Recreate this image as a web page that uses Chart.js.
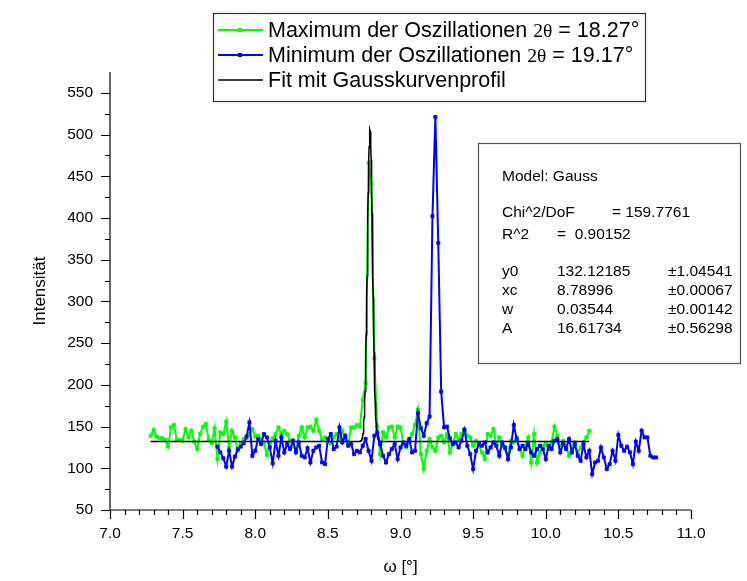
<!DOCTYPE html>
<html lang="de">
<head>
<meta charset="UTF-8">
<title>Oszillationen – ω-Scan</title>
<script src="https://cdn.jsdelivr.net/npm/chart.js"></script>
<style>
  html, body { margin: 0; padding: 0; background: #fff; }
  canvas { display: block; }
</style>
</head>
<body>
<canvas id="scan" width="747" height="581"></canvas>
<script>
// gemeinsames ω-Raster in Grad (Schrittweite 0.02°)
const omega = [
  7.28, 7.30, 7.32, 7.34, 7.36, 7.38, 7.40, 7.42, 7.44, 7.46,
  7.48, 7.50, 7.52, 7.54, 7.56, 7.58, 7.60, 7.62, 7.64, 7.66,
  7.68, 7.70, 7.72, 7.74, 7.76, 7.78, 7.80, 7.82, 7.84, 7.86,
  7.88, 7.90, 7.92, 7.94, 7.96, 7.98, 8.00, 8.02, 8.04, 8.06,
  8.08, 8.10, 8.12, 8.14, 8.16, 8.18, 8.20, 8.22, 8.24, 8.26,
  8.28, 8.30, 8.32, 8.34, 8.36, 8.38, 8.40, 8.42, 8.44, 8.46,
  8.48, 8.50, 8.52, 8.54, 8.56, 8.58, 8.60, 8.62, 8.64, 8.66,
  8.68, 8.70, 8.72, 8.74, 8.76, 8.78, 8.80, 8.82, 8.84, 8.86,
  8.88, 8.90, 8.92, 8.94, 8.96, 8.98, 9.00, 9.02, 9.04, 9.06,
  9.08, 9.10, 9.12, 9.14, 9.16, 9.18, 9.20, 9.22, 9.24, 9.26,
  9.28, 9.30, 9.32, 9.34, 9.36, 9.38, 9.40, 9.42, 9.44, 9.46,
  9.48, 9.50, 9.52, 9.54, 9.56, 9.58, 9.60, 9.62, 9.64, 9.66,
  9.68, 9.70, 9.72, 9.74, 9.76, 9.78, 9.80, 9.82, 9.84, 9.86,
  9.88, 9.90, 9.92, 9.94, 9.96, 9.98, 10.00, 10.02, 10.04, 10.06,
  10.08, 10.10, 10.12, 10.14, 10.16, 10.18, 10.20, 10.22, 10.24, 10.26,
  10.28, 10.30, 10.32, 10.34, 10.36, 10.38, 10.40, 10.42, 10.44, 10.46,
  10.48, 10.50, 10.52, 10.54, 10.56, 10.58, 10.60, 10.62, 10.64, 10.66,
  10.68, 10.70, 10.72, 10.74, 10.76
];

// Maximum der Oszillationen (2θ = 18.27°), null = nicht gemessen
const intensMax = [
  139, 146, 138, 136, 136, 134, 126, 149, 152, 134,
  134, 133, 147, 137, 145, 132, 123, 141, 150, 153,
  134, 130, 148, 111, 143, 141, 156, 125, 145, 137,
  121, 129, 135, 136, 141, 147, 138, 139, 135, 131,
  116, 129, 136, 141, 149, 141, 145, 141, 133, 127,
  121, 139, 149, 137, 149, 150, 145, 158, 145, 134,
  137, 132, 130, 137, 141, 135, 145, 137, 129, 149,
  149, 152, 150, 182, 202, 466, 441, 232, 150, 117,
  143, 137, 149, 150, 137, 150, 149, 129, 125, 133,
  141, 152, 170, 117, 99, 121, 135, 125, 121, 137,
  139, 131, 141, 119, 129, 141, 135, 141, 147, 139,
  137, 127, 133, 127, 119, 111, 141, 139, 147, 127,
  137, 127, 123, 115, 133, 131, 137, 123, 115, 127,
  137, 107, 141, 107, 119, 127, 129, 123, 131, 150,
  139, 125, 133, 127, 115, 125, 131, 119, 125, 131,
  137, 145, null, null, null, null, null, null, null, null,
  null, null, null, null, null, null, null, null, null, null,
  null, null, null, null, null
];

// Minimum der Oszillationen (2θ = 19.17°)
const intensMin = [
  null, null, null, null, null, null, null, null, null, null,
  null, null, null, null, null, null, null, null, null, null,
  null, null, null, 126, 119, 112, 102, 121, 102, 114,
  123, 126, 130, 138, 155, 115, 121, 135, 129, 141,
  137, 125, 106, 133, 115, 137, 119, 129, 123, 133,
  119, 131, 115, 113, 124, 107, 121, 125, 127, 107,
  105, 135, 141, 123, 126, 149, 131, 139, 127, 129,
  117, 121, 119, 127, 135, 121, 109, 139, 143, 129,
  115, 107, 117, 123, 129, 111, 125, 131, 127, 135,
  119, 121, 166, 148, 139, 154, 162, 402, 521, 370,
  192, 149, 150, 136, 129, 131, 125, 133, 146, 127,
  117, 99, 121, 129, 127, 131, 119, 125, 131, 127,
  115, 131, 125, 111, 125, 152, 135, 123, 127, 123,
  129, 119, 115, 123, 127, 123, 111, 127, 123, 133,
  135, 119, 129, 123, 135, 119, 129, 115, 109, 129,
  113, 121, 93, 107, 109, 125, 113, 99, 105, 121,
  109, 140, 127, 121, 126, 119, 105, 132, 121, 145,
  137, 137, 115, 113, 113
];

// Gauss-Fit an die Maximum-Reihe
const fitY0 = 132.12185;
const fitXc = 8.78996;
const fitW = 0.03544;
const fitA = 16.61734;

const fitLines = [
  ['Model: Gauss'],
  [],
  ['Chi^2/DoF', '= 159.7761'],
  ['R^2', '=  0.90152'],
  [],
  ['y0', '132.12185', '±1.04541'],
  ['xc', '8.78996', '±0.00067'],
  ['w', '0.03544', '±0.00142'],
  ['A', '16.61734', '±0.56298']
];

const SANS = '"Liberation Sans", Arial, sans-serif';
const SERIF = '"Liberation Serif", "Times New Roman", serif';

function toPoints(ys) {
  const pts = [];
  ys.forEach((v, i) => { if (v !== null) pts.push({ x: omega[i], y: v }); });
  return pts;
}

function gauss(x) {
  const d = (x - fitXc) / fitW;
  return fitY0 + fitA / (fitW * Math.sqrt(Math.PI / 2)) * Math.exp(-2 * d * d);
}

// Fitkurve über den Messbereich der Maximum-Reihe
const maxPts = toPoints(intensMax);
const fitPts = [];
const fitFrom = maxPts[0].x, fitTo = maxPts[maxPts.length - 1].x;
for (let k = 0; fitFrom + k * 0.002 <= fitTo + 1e-9; k++) {
  const x = fitFrom + k * 0.002;
  fitPts.push({ x: x, y: gauss(x) });
}

const isMajorX = v => Math.round(v * 10) % 5 === 0;

// Achsen, Ticks, Legende und Fit-Box im Origin-Stil
const frame = {
  id: 'frame',
  afterDraw(chart) {
    const { ctx, chartArea: a, scales: { x, y } } = chart;
    ctx.save();
    ctx.strokeStyle = '#000';
    ctx.lineWidth = 1.2;
    ctx.beginPath();
    ctx.moveTo(a.left, a.top);
    ctx.lineTo(a.left, a.bottom);
    ctx.lineTo(a.right, a.bottom);
    ctx.stroke();

    ctx.beginPath();
    y.ticks.forEach(t => {
      if (t.value > 550) return;
      const py = Math.round(y.getPixelForValue(t.value)) + 0.5;
      const len = t.value % 50 === 0 ? 9 : 5;
      ctx.moveTo(a.left - len, py);
      ctx.lineTo(a.left, py);
    });
    x.ticks.forEach(t => {
      const px = Math.round(x.getPixelForValue(t.value)) + 0.5;
      const len = isMajorX(t.value) ? 9 : 5;
      ctx.moveTo(px, a.bottom);
      ctx.lineTo(px, a.bottom + len);
    });
    ctx.stroke();

    // Legende
    const lx = 213.5, ly = 13.5, lw = 432, lh = 88;
    ctx.fillStyle = '#fff';
    ctx.fillRect(lx, ly, lw, lh);
    ctx.strokeStyle = '#333';
    ctx.lineWidth = 1.2;
    ctx.strokeRect(lx, ly, lw, lh);

    const rows = [
      { color: '#00ff00', mark: true, pre: 'Maximum der Oszillationen ', post: ' = 18.27°' },
      { color: '#0000ff', mark: true, pre: 'Minimum der Oszillationen ', post: ' = 19.17°' },
      { color: '#000000', mark: false, pre: 'Fit mit Gausskurvenprofil', post: null }
    ];
    rows.forEach((r, i) => {
      const base = 37 + i * 25;
      const mid = base - 7;
      ctx.strokeStyle = r.color;
      ctx.lineWidth = r.mark ? 2 : 1.5;
      ctx.beginPath();
      ctx.moveTo(218, mid);
      ctx.lineTo(263, mid);
      ctx.stroke();
      if (r.mark) {
        ctx.fillStyle = r.color;
        ctx.fillRect(238, mid - 2, 4, 4);
      }
      ctx.fillStyle = '#000';
      ctx.textBaseline = 'alphabetic';
      ctx.textAlign = 'left';
      ctx.font = '21.5px ' + SANS;
      let tx = 268;
      ctx.fillText(r.pre, tx, base);
      if (r.post) {
        tx += ctx.measureText(r.pre).width;
        ctx.font = '19.5px ' + SERIF;
        ctx.fillText('2θ', tx, base);
        tx += ctx.measureText('2θ').width;
        ctx.font = '21.5px ' + SANS;
        ctx.fillText(r.post, tx, base);
      }
    });

    // Box mit Fitparametern
    const bx = 478.5, by = 143.5, bw = 262, bh = 220;
    ctx.fillStyle = '#fff';
    ctx.fillRect(bx, by, bw, bh);
    ctx.strokeStyle = '#555';
    ctx.lineWidth = 1.2;
    ctx.strokeRect(bx, by, bw, bh);
    ctx.fillStyle = '#000';
    ctx.font = '15.5px ' + SANS;
    ctx.textBaseline = 'middle';
    const rowY = [177, 195, 213, 235, 253, 272, 291, 310, 329];
    fitLines.forEach((cells, i) => {
      if (!cells.length) return;
      const yy = rowY[i];
      ctx.fillText(cells[0], 502, yy);
      if (cells[0] === 'Chi^2/DoF') {
        ctx.fillText(cells[1], 612, yy);
      } else if (cells.length > 1) {
        ctx.fillText(cells[1], 557, yy);
        if (cells[2]) ctx.fillText(cells[2], 668, yy);
      }
    });
    ctx.restore();
  }
};

new Chart(document.getElementById('scan'), {
  type: 'scatter',
  data: {
    datasets: [
      {
        label: 'Minimum der Oszillationen 2θ = 19.17°',
        data: toPoints(intensMin),
        showLine: true,
        borderColor: '#0000ff',
        backgroundColor: '#0000ff',
        borderWidth: 2,
        pointStyle: 'rect',
        pointRadius: 2.2,
        pointBorderWidth: 0.8,
        order: 0
      },
      {
        label: 'Fit mit Gausskurvenprofil',
        data: fitPts,
        showLine: true,
        borderColor: '#000000',
        borderWidth: 1.5,
        pointRadius: 0,
        order: 1
      },
      {
        label: 'Maximum der Oszillationen 2θ = 18.27°',
        data: maxPts,
        showLine: true,
        borderColor: '#00ff00',
        backgroundColor: '#00ff00',
        borderWidth: 2,
        pointStyle: 'rect',
        pointRadius: 2.2,
        pointBorderWidth: 0.8,
        order: 2
      }
    ]
  },
  options: {
    responsive: false,
    animation: false,
    devicePixelRatio: 1,
    layout: { padding: { left: 0, right: 56, top: 72, bottom: 0 } },
    plugins: { legend: { display: false }, tooltip: { enabled: false } },
    scales: {
      x: {
        type: 'linear',
        min: 7,
        max: 11,
        grid: { display: false, drawTicks: false },
        border: { display: false },
        ticks: {
          stepSize: 0.1,
          autoSkip: false,
          maxRotation: 0,
          padding: 14,
          color: '#000',
          font: { family: SANS, size: 15.5 },
          callback: v => isMajorX(v) ? v.toFixed(1) : ''
        },
        title: {
          display: true,
          text: 'ω [°]',
          color: '#000',
          font: { family: SANS, size: 17 },
          padding: { top: 0, bottom: 3 }
        },
        afterFit: s => { s.height = 71; }
      },
      y: {
        min: 50,
        max: 575,
        grid: { display: false, drawTicks: false },
        border: { display: false },
        ticks: {
          stepSize: 25,
          autoSkip: false,
          padding: 17,
          color: '#000',
          font: { family: SANS, size: 15.5 },
          callback: v => (v % 50 === 0 && v <= 550) ? String(v) : ''
        },
        title: {
          display: true,
          text: 'Intensität',
          color: '#000',
          font: { family: SANS, size: 17 },
          padding: { top: 30, bottom: 0 }
        },
        afterFit: s => { s.width = 110; }
      }
    }
  },
  plugins: [frame]
});
</script>
</body>
</html>
